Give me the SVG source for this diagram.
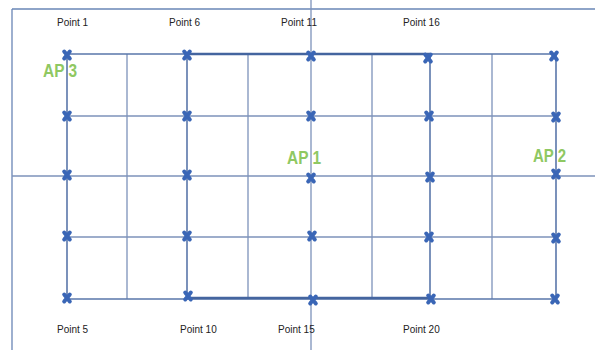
<svg xmlns="http://www.w3.org/2000/svg" xmlns:xlink="http://www.w3.org/1999/xlink" width="595" height="350" viewBox="0 0 595 350">
<style>
.frame{stroke:#6a86b6;stroke-width:1.3;fill:none}
.grid{stroke:#7d93bb;stroke-width:1.3;fill:none}
.edge{stroke:#5a77aa;stroke-width:1.6;fill:none}
.bold{stroke:#44659f;stroke-width:2.6;fill:none}
.lbl{font-family:"Liberation Sans",Arial,sans-serif;font-size:10px;fill:#222}
.ap{font-family:"Liberation Sans",Arial,sans-serif;font-size:18px;font-weight:bold;fill:#8fc862}
</style>
<defs>
<g id="x">
<path d="M-2.8,-3.4 L2.8,3.4 M2.8,-3.4 L-2.8,3.4" stroke="#3a66b6" stroke-width="4" stroke-linecap="round"/>
</g>
</defs>
<rect width="595" height="350" fill="#ffffff"/>
<g id="connectors">
<path class="frame" d="M12,9 H595 M12,9 V350"/>
<path class="grid" d="M67,116 H556 M67,237 H556 M12,176 H595"/>
<path class="grid" d="M127,54 V299 M248,54 V299 M372,54 V299 M492,54 V299 M311,0 V350"/>
<path class="edge" d="M67,54 H556 M67,299 H556 M67,54 V299 M187,54 V299 M430,54 V299 M556,54 V299"/>
<path class="bold" d="M187,54 H430 M187,298 H430"/>
</g>
<g id="p1"><use xlink:href="#x" x="67" y="55"/><text class="lbl" x="57" y="26">Point 1</text></g>
<g id="p2"><use xlink:href="#x" x="67" y="116"/></g>
<g id="p3"><use xlink:href="#x" x="67" y="175"/></g>
<g id="p4"><use xlink:href="#x" x="67" y="236"/></g>
<g id="p5"><use xlink:href="#x" x="67" y="298"/><text class="lbl" x="57" y="333">Point 5</text></g>
<g id="p6"><use xlink:href="#x" x="187" y="55"/><text class="lbl" x="169" y="26">Point 6</text></g>
<g id="p7"><use xlink:href="#x" x="187" y="116"/></g>
<g id="p8"><use xlink:href="#x" x="187" y="175"/></g>
<g id="p9"><use xlink:href="#x" x="187" y="236"/></g>
<g id="p10"><use xlink:href="#x" x="188" y="296"/><text class="lbl" x="180" y="333">Point 10</text></g>
<g id="p11"><use xlink:href="#x" x="311" y="56"/><text class="lbl" x="281" y="26">Point 11</text></g>
<g id="p12"><use xlink:href="#x" x="311" y="116"/></g>
<g id="p13"><use xlink:href="#x" x="311" y="178"/></g>
<g id="p14"><use xlink:href="#x" x="312" y="236"/></g>
<g id="p15"><use xlink:href="#x" x="313" y="300"/><text class="lbl" x="278" y="333">Point 15</text></g>
<g id="p16"><use xlink:href="#x" x="428" y="58"/><text class="lbl" x="403" y="26">Point 16</text></g>
<g id="p17"><use xlink:href="#x" x="429" y="116"/></g>
<g id="p18"><use xlink:href="#x" x="430" y="177"/></g>
<g id="p19"><use xlink:href="#x" x="429" y="237"/></g>
<g id="p20"><use xlink:href="#x" x="431" y="299"/><text class="lbl" x="403" y="333">Point 20</text></g>
<g id="p21"><use xlink:href="#x" x="554" y="56"/></g>
<g id="p22"><use xlink:href="#x" x="556" y="117"/></g>
<g id="p23"><use xlink:href="#x" x="556" y="174"/></g>
<g id="p24"><use xlink:href="#x" x="556" y="238"/></g>
<g id="p25"><use xlink:href="#x" x="555" y="299"/></g>
<g id="ap1"><text class="ap" x="287" y="164" textLength="34" lengthAdjust="spacingAndGlyphs">AP 1</text></g>
<g id="ap2"><text class="ap" x="533" y="162" textLength="33" lengthAdjust="spacingAndGlyphs">AP 2</text></g>
<g id="ap3"><text class="ap" x="43" y="77" textLength="34" lengthAdjust="spacingAndGlyphs">AP 3</text></g>
</svg>
